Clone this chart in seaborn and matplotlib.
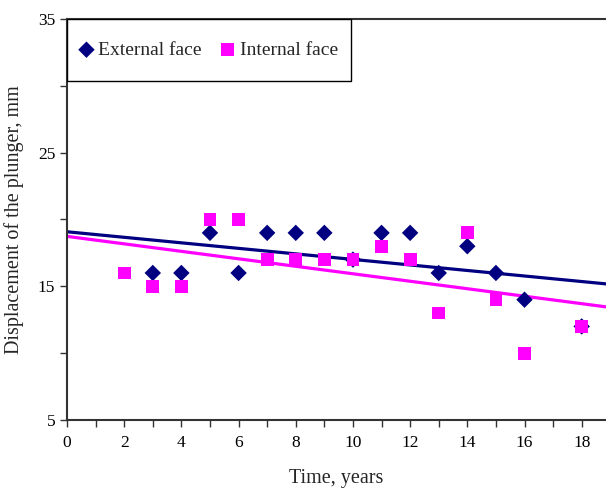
import numpy as np
import pandas as pd
import matplotlib
matplotlib.use('Agg')
from matplotlib import pyplot as plt
from matplotlib.ticker import MultipleLocator
from matplotlib.patches import Rectangle
import seaborn as sns

# values
ext_years = [3, 4, 5, 6, 7, 8, 9, 10, 11, 12, 13, 14, 15, 16, 18]
ext_disp = [16, 16, 19, 16, 19, 19, 19, 17, 19, 19, 16, 18, 16, 14, 12]
int_years = [2, 3, 4, 5, 6, 7, 8, 9, 10, 11, 12, 13, 14, 15, 16, 18]
int_disp = [16, 15, 15, 20, 20, 17, 17, 17, 17, 18, 17, 13, 19, 14, 10, 12]

ext = pd.DataFrame({'year': ext_years, 'disp': ext_disp, 'face': 'External face'})
intl = pd.DataFrame({'year': int_years, 'disp': int_disp, 'face': 'Internal face'})

sns.set_style('white')
plt.rcParams['font.family'] = ['Liberation Serif', 'DejaVu Serif']

fig = plt.figure(figsize=(6.06, 4.94), dpi=100)
ax = fig.add_axes([67/606, 74/494, 1 - 67/606, (420-19)/494])
ax.set_xlim(0, 18.85)
ax.set_ylim(5, 35)

navy = '#000080'
magenta = '#FF00FF'

sns.regplot(data=ext, x='year', y='disp', scatter=False, ci=None, truncate=False,
            color=navy, line_kws={'lw': 2.3}, ax=ax)
sns.regplot(data=intl, x='year', y='disp', scatter=False, ci=None, truncate=False,
            color=magenta, line_kws={'lw': 2.3}, ax=ax)
sns.scatterplot(data=ext, x='year', y='disp', marker='D', s=70, color=navy,
                edgecolor='none', label='External face', ax=ax, zorder=3)
sns.scatterplot(data=intl, x='year', y='disp', marker='s', s=85, color=magenta,
                edgecolor='none', label='Internal face', ax=ax, zorder=3)

ax.xaxis.set_major_locator(MultipleLocator(2))
ax.xaxis.set_minor_locator(MultipleLocator(1))
ax.set_yticks([5, 15, 25, 35])
ax.set_yticks([10, 20, 30], minor=True)
ax.tick_params(which='both', direction='out', length=5, width=1, colors='#333333',
               labelcolor='black', labelsize=12.5, bottom=True, left=True)
ax.tick_params(axis='x', pad=6)

for s in ['left', 'bottom', 'top']:
    ax.spines[s].set_color('#333333')
    ax.spines[s].set_linewidth(1.5)
ax.spines['right'].set_visible(False)

ax.set_xlabel('Time, years', fontsize=14.5, labelpad=13)
ax.set_ylabel('Displacement of the plunger, mm', fontsize=14.5, labelpad=10)

# legend box drawn as a plain rectangle, legend entries centred inside it
box_w = (351 - 67) / 539
box_h = 62 / 401
ax.add_patch(Rectangle((0, 1 - box_h), box_w, box_h, transform=ax.transAxes,
                       facecolor='white', edgecolor='black', lw=1.0, zorder=4))
leg = ax.legend(loc='center left', bbox_to_anchor=(0, 1 - box_h / 2), borderaxespad=0,
                ncol=2, frameon=False, fontsize=14, handletextpad=0.2,
                columnspacing=0.95, borderpad=0.6, handlelength=0.8)
leg.set_zorder(5)

fig.savefig('out.png', dpi=100)
